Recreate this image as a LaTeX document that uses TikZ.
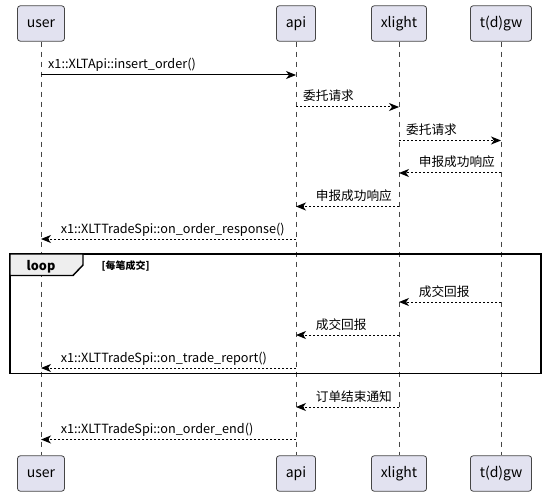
\documentclass[tikz,border=0pt]{standalone}
\usepackage{fontspec}
\setmainfont{Noto Sans CJK SC}
\usepackage{tikz}
\usetikzlibrary{arrows.meta,positioning}
\definecolor{partfill}{HTML}{E2E2F0}
\definecolor{partline}{HTML}{181818}
\definecolor{tabfill}{HTML}{EEEEEE}

\begin{document}
\begin{tikzpicture}[x=0.75pt, y=-0.75pt,
  part/.style={draw=partline!80, fill=partfill, rounded corners=2pt, line width=0.6pt,
    minimum height=26.5pt, inner xsep=7pt, font=\fontsize{10.5}{12}\selectfont},
  life/.style={partline!80, line width=0.5pt, dash pattern=on 3.75pt off 3.75pt},
  call/.style={line width=0.75pt, -{Stealth[length=7.5pt, width=6pt, inset=2.2pt]}},
  reply/.style={call, dash pattern=on 1.5pt off 1.5pt},
  rlbl/.style={anchor=base west, inner sep=0pt, xshift=5pt, yshift=4.5pt, font=\fontsize{9.5}{11}\selectfont},
  llbl/.style={anchor=base west, inner sep=0pt, xshift=14.5pt, yshift=4.5pt, font=\fontsize{9.5}{11}\selectfont}]
\useasboundingbox (0,0) rectangle (545,495);

% participants, top and bottom
\foreach \nm/\x/\txt in {user/41/user, api/296/api, xlight/399/xlight, tdgw/501/t(d)gw}{
  \node[part] (\nm) at (\x,23.5) {\txt};
  \node[part] (\nm-b) at (\x,473.5) {\txt};
  \draw[life] (\nm) -- (\nm-b);
}

% loop frame
\draw[line width=1.1pt] (10,254) rectangle (541,373.5);
\draw[line width=1.1pt, fill=tabfill] (10,254) -- (83,254) -- (83,265) -- (73,275.5) -- (10,275.5) -- cycle;
\node[anchor=base west, font=\fontsize{9.5}{11}\selectfont\bfseries] (looplbl) at (22,270) {loop};
\node[anchor=base west, font=\fontsize{7.5}{9}\selectfont\bfseries] (loopcond) at (97,269) {[每笔成交]};

% messages to the right
\draw[call] (user |- 0,75) -- (api |- 0,75) node[pos=0, rlbl] {x1::XLTApi::insert\_order()};
\foreach \y/\src/\dst/\txt in {107/api/xlight/委托请求, 140.5/xlight/tdgw/委托请求}{
  \draw[reply] (\src |- 0,\y) -- (\dst |- 0,\y) node[pos=0, rlbl] {\txt};
}

% messages to the left
\foreach \y/\src/\dst/\txt in {173/tdgw/xlight/申报成功响应, 206.5/xlight/api/申报成功响应,
    239/api/user/x1::XLTTradeSpi::on\_order\_response(),
    302/tdgw/xlight/成交回报, 335/xlight/api/成交回报,
    368/api/user/x1::XLTTradeSpi::on\_trade\_report(),
    407/xlight/api/订单结束通知, 439.5/api/user/x1::XLTTradeSpi::on\_order\_end()}{
  \draw[reply] (\src |- 0,\y) -- (\dst |- 0,\y) node[pos=1, llbl] {\txt};
}
\end{tikzpicture}
\end{document}
